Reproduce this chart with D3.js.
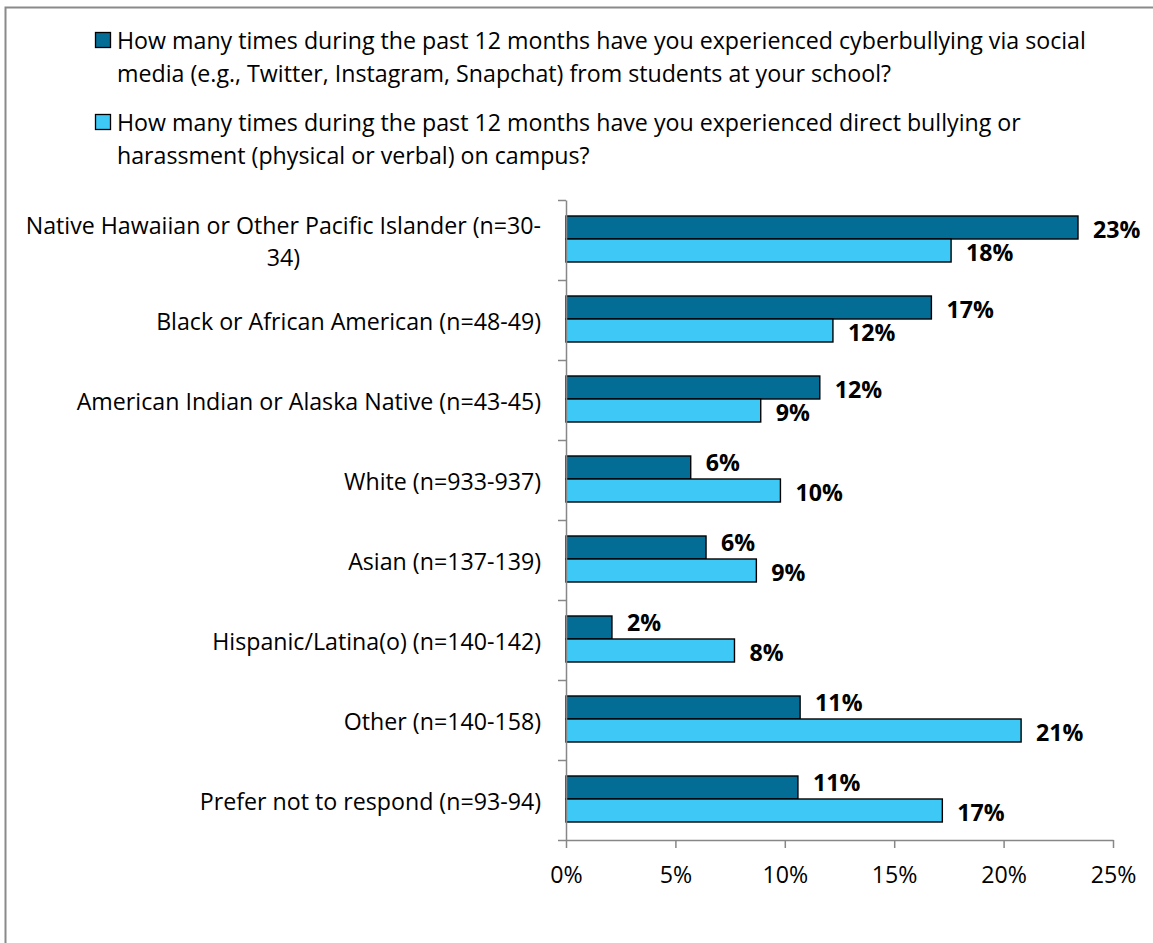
<!DOCTYPE html>
<html>
<head>
<meta charset="utf-8">
<script src="https://cdn.jsdelivr.net/npm/d3@7/dist/d3.min.js"></script>
<style>
  html, body { margin: 0; padding: 0; background: #fff; }
  svg text { font-family: "Open Sans", "Noto Sans", sans-serif; fill: #000; }
</style>
</head>
<body>
<svg id="chart" width="1153" height="943"></svg>
<script>
// Survey groups, top to bottom
const categories = [
  "Native Hawaiian or Other Pacific Islander (n=30-34)",
  "Black or African American (n=48-49)",
  "American Indian or Alaska Native (n=43-45)",
  "White (n=933-937)",
  "Asian (n=137-139)",
  "Hispanic/Latina(o) (n=140-142)",
  "Other (n=140-158)",
  "Prefer not to respond (n=93-94)"
];

// Percent of students reporting each experience
const cyberbullying = [23.4, 16.7, 11.6, 5.7, 6.4, 2.1, 10.7, 10.6];
const directBullying = [17.6, 12.2, 8.9, 9.8, 8.7, 7.7, 20.8, 17.2];

const seriesNames = [
  "How many times during the past 12 months have you experienced cyberbullying via social media (e.g., Twitter, Instagram, Snapchat) from students at your school?",
  "How many times during the past 12 months have you experienced direct bullying or harassment (physical or verbal) on campus?"
];
const seriesColors = ["#036D96", "#3EC8F6"];

const xTicks = [0, 5, 10, 15, 20, 25];

const svg = d3.select("#chart");

function textWidth(str, size, weight) {
  const probe = svg.append("text").attr("font-size", size).attr("font-weight", weight || "normal").text(str);
  const w = probe.node().getComputedTextLength();
  probe.remove();
  return w;
}

// size the type so a full legend line spans the legend width
const FONT = Math.round(20 * 970 / textWidth("How many times during the past 12 months have you experienced cyberbullying via social", 20) * 10) / 10;

// outer frame
svg.append("rect")
  .attr("x", 5.5).attr("y", 7.5)
  .attr("width", 1200).attr("height", 1000)
  .attr("fill", "#fff")
  .attr("stroke", "#8a8a8a").attr("stroke-width", 2);

const plot = { left: 566, right: 1113, top: 200, bottom: 840 };

const x = d3.scaleLinear().domain([0, 25]).range([plot.left, plot.right]);
const y = d3.scaleBand().domain(categories).range([plot.top, plot.bottom]).padding(0);
const sub = d3.scaleBand().domain([0, 1]).range([16, 62]).padding(0);

const series = [cyberbullying, directBullying];
const rows = categories.map((c, i) => ({ c, vals: series.map(s => s[i]) }));

function wrapLines(text, maxW, size) {
  const words = text.split(" ");
  const lines = [];
  let cur = "";
  words.forEach(w => {
    const t = cur ? cur + " " + w : w;
    if (textWidth(t, size) > maxW && cur) {
      // allow a break after a hyphen inside the overflowing word
      const h = w.lastIndexOf("-");
      if (h > 0 && textWidth(cur + " " + w.slice(0, h + 1), size) <= maxW) {
        lines.push(cur + " " + w.slice(0, h + 1));
        cur = w.slice(h + 1);
      } else {
        lines.push(cur);
        cur = w;
      }
    } else cur = t;
  });
  if (cur) lines.push(cur);
  return lines;
}

// Legend
const legend = svg.append("g");
const legendTop = [40, 122];
seriesNames.forEach((name, k) => {
  legend.append("rect")
    .attr("x", 95.5).attr("y", legendTop[k] - 7.5)
    .attr("width", 15).attr("height", 15)
    .attr("fill", seriesColors[k])
    .attr("stroke", "#000").attr("stroke-width", 1.3);
  const lines = wrapLines(name, 985, FONT);
  lines.forEach((ln, j) => {
    legend.append("text")
      .attr("font-size", FONT)
      .attr("x", 117).attr("y", legendTop[k] + j * 33)
      .attr("dominant-baseline", "central")
      .text(ln);
  });
});

// Bars
const groups = svg.append("g").selectAll("g")
  .data(rows).join("g")
  .attr("transform", d => `translate(0,${y(d.c)})`);

groups.selectAll("rect")
  .data(d => d.vals.map((v, k) => ({ v, k })))
  .join("rect")
  .attr("x", x(0))
  .attr("y", d => sub(d.k))
  .attr("width", d => x(d.v) - x(0))
  .attr("height", sub.bandwidth())
  .attr("fill", d => seriesColors[d.k])
  .attr("stroke", "#000").attr("stroke-width", 1.4);

// Value labels; a cyberbullying label is lifted when the bar below it is longer
const fmt = d3.format(".0%");
groups.selectAll("text.val")
  .data(d => d.vals.map((v, k) => ({ v, k, lift: k === 0 && d.vals[1] > v ? 7 : 0 })))
  .join("text")
  .attr("class", "val")
  .attr("x", d => x(d.v) + 15)
  .attr("y", d => sub(d.k) + sub.bandwidth() / 2 + 1 - d.lift)
  .attr("dominant-baseline", "central")
  .attr("font-size", FONT)
  .attr("font-weight", "bold")
  .text(d => fmt(d.v / 100));

// Y axis: line and ticks at band boundaries
const yIdx = d3.scaleLinear().domain([0, categories.length]).range([plot.top, plot.bottom]);
const yAxis = svg.append("g")
  .attr("transform", `translate(${plot.left},0)`)
  .call(d3.axisLeft(yIdx).tickValues(d3.range(categories.length + 1)).tickFormat("").tickSize(8).tickSizeOuter(0));
yAxis.selectAll("path, line").attr("stroke", "#878787").attr("stroke-width", 1.5);

// Category labels
const labelRight = 541;
categories.forEach(c => {
  const lines = wrapLines(c, 525, FONT);
  const cy = y(c) + y.bandwidth() / 2;
  if (lines.length === 1) {
    svg.append("text")
      .attr("x", labelRight).attr("y", cy + 1)
      .attr("text-anchor", "end")
      .attr("dominant-baseline", "central")
      .attr("font-size", FONT)
      .text(c);
  } else {
    const cx = labelRight - d3.max(lines, l => textWidth(l, FONT)) / 2;
    const lh = 32;
    lines.forEach((l, j) => {
      svg.append("text")
        .attr("x", cx)
        .attr("y", cy + 1 + (j - (lines.length - 1) / 2) * lh)
        .attr("text-anchor", "middle")
        .attr("dominant-baseline", "central")
        .attr("font-size", FONT)
        .text(l);
    });
  }
});

// X axis
const xAxis = svg.append("g")
  .attr("transform", `translate(0,${plot.bottom})`)
  .call(d3.axisBottom(x).tickValues(xTicks).tickFormat(d => d + "%").tickSize(8).tickSizeOuter(0));
xAxis.selectAll("path, line").attr("stroke", "#878787").attr("stroke-width", 1.5);
xAxis.selectAll("text")
  .attr("font-size", FONT)
  .attr("font-family", "'Open Sans', sans-serif")
  .attr("fill", "#000")
  .attr("y", 34).attr("dy", null)
  .attr("dominant-baseline", "central");
</script>
</body>
</html>
